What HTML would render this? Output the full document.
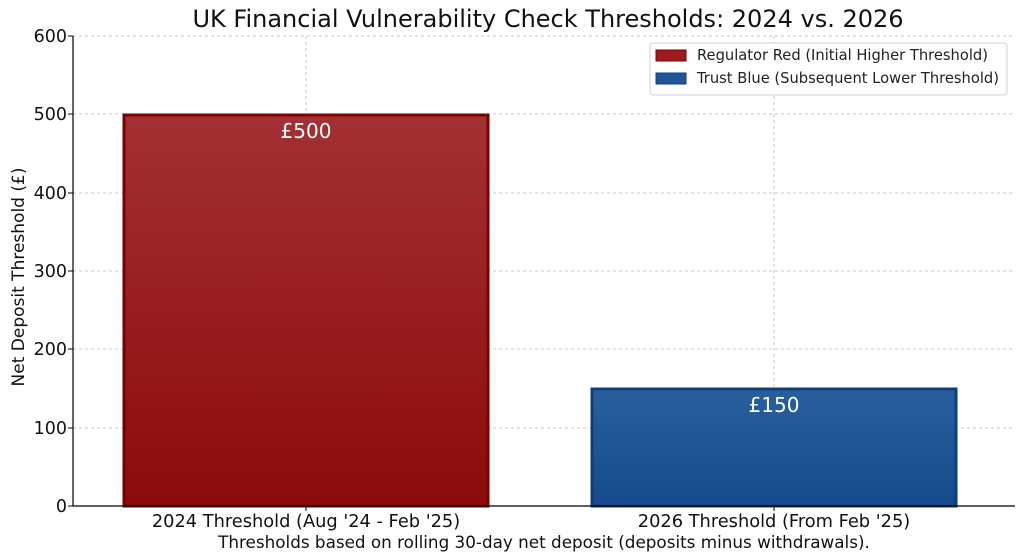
<!DOCTYPE html>
<html><head><meta charset="utf-8"><style>
html,body{margin:0;padding:0;background:#fff;}
svg{display:block;font-family:"DejaVu Sans","Liberation Sans",sans-serif;}
</style></head><body>
<svg width="1024" height="559" viewBox="0 0 1024 559" xmlns="http://www.w3.org/2000/svg">
<defs>
<linearGradient id="rg" x1="0" y1="0" x2="0" y2="1"><stop offset="0" stop-color="#a43034"/><stop offset="1" stop-color="#8c0a0c"/></linearGradient>
<linearGradient id="bg" x1="0" y1="0" x2="0" y2="1"><stop offset="0" stop-color="#2a5f9e"/><stop offset="1" stop-color="#154a8c"/></linearGradient>
</defs>
<text x="548" y="27" font-size="24" text-anchor="middle" fill="#111">UK Financial Vulnerability Check Thresholds: 2024 vs. 2026</text>
<g stroke="#c8c8c8" stroke-dasharray="3,3" stroke-width="1">
<line x1="73" y1="36" x2="1015" y2="36"/><line x1="73" y1="114" x2="1015" y2="114"/><line x1="73" y1="193" x2="1015" y2="193"/><line x1="73" y1="271" x2="1015" y2="271"/><line x1="73" y1="349" x2="1015" y2="349"/><line x1="73" y1="428" x2="1015" y2="428"/>
<line x1="306" y1="36" x2="306" y2="506"/><line x1="774" y1="36" x2="774" y2="506"/>
</g>
<rect x="124" y="115" width="364" height="391" fill="url(#rg)" stroke="#7a0000" stroke-width="3"/>
<rect x="592" y="389" width="364" height="117" fill="url(#bg)" stroke="#0f3f7a" stroke-width="3"/>
<text x="306" y="138" font-size="20" fill="#fff" text-anchor="middle">£500</text>
<text x="774" y="412" font-size="20" fill="#fff" text-anchor="middle">£150</text>
<line x1="73" y1="36" x2="73" y2="506" stroke="#000" stroke-width="1.2"/>
<line x1="73" y1="506" x2="1015" y2="506" stroke="#000" stroke-width="1.2"/>
<g font-size="17.5" fill="#111" text-anchor="end">
<text x="67" y="42">600</text><text x="67" y="120">500</text><text x="67" y="199">400</text><text x="67" y="277">300</text><text x="67" y="355">200</text><text x="67" y="434">100</text><text x="67" y="512">0</text>
</g>
<g stroke="#000"><line x1="68" y1="36" x2="73" y2="36"/><line x1="68" y1="114" x2="73" y2="114"/><line x1="68" y1="193" x2="73" y2="193"/><line x1="68" y1="271" x2="73" y2="271"/><line x1="68" y1="349" x2="73" y2="349"/><line x1="68" y1="428" x2="73" y2="428"/><line x1="68" y1="506" x2="73" y2="506"/><line x1="306" y1="506" x2="306" y2="511"/><line x1="774" y1="506" x2="774" y2="511"/></g>
<text x="306" y="527" font-size="17.8" fill="#111" text-anchor="middle">2024 Threshold (Aug '24 - Feb '25)</text>
<text x="774" y="527" font-size="17.8" fill="#111" text-anchor="middle">2026 Threshold (From Feb '25)</text>
<text x="544" y="548" font-size="16.8" fill="#111" text-anchor="middle">Thresholds based on rolling 30-day net deposit (deposits minus withdrawals).</text>
<text transform="translate(24,277) rotate(-90)" font-size="17" fill="#111" text-anchor="middle">Net Deposit Threshold (£)</text>
<rect x="650" y="43" width="357" height="52" rx="3" fill="#fff" fill-opacity="0.9" stroke="#d0d0d0"/>
<rect x="656" y="50" width="30" height="11" fill="#9e1a1e" stroke="#7a0000"/>
<rect x="656" y="73" width="30" height="11" fill="#1f5699" stroke="#0f3f7a"/>
<text x="697" y="60" font-size="14.7" fill="#222">Regulator Red (Initial Higher Threshold)</text>
<text x="697" y="83" font-size="14.7" fill="#222">Trust Blue (Subsequent Lower Threshold)</text>
</svg>
</body></html>
